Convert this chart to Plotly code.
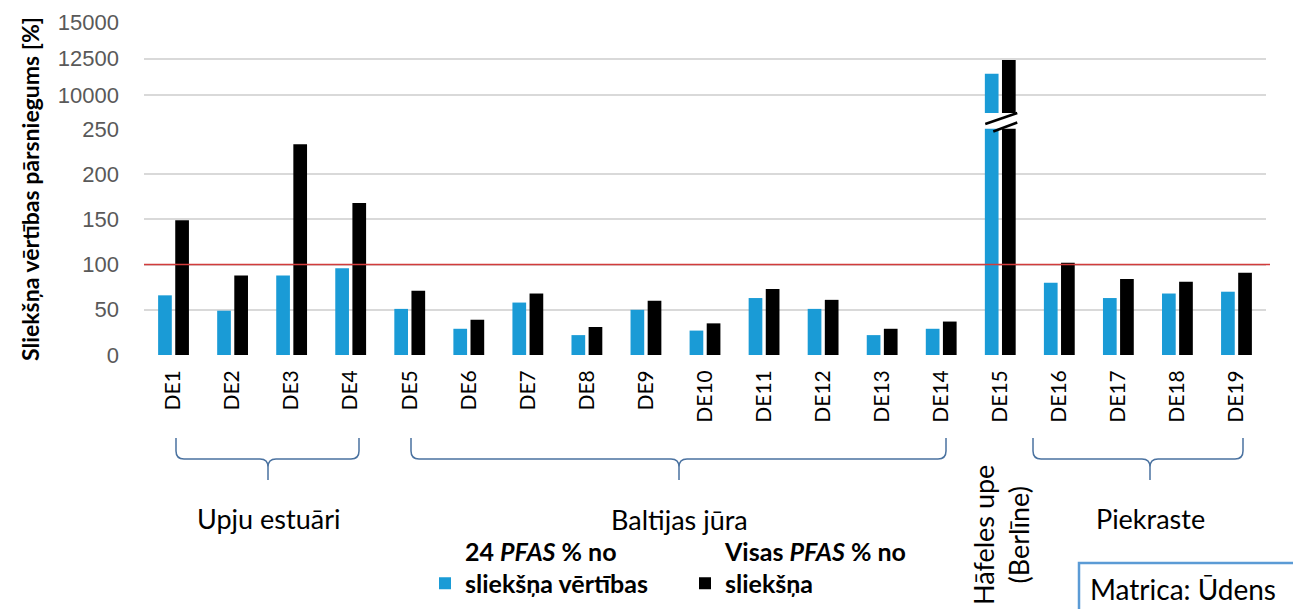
import plotly.graph_objects as go

# ---------------- data ----------------
categories = ["DE1", "DE2", "DE3", "DE4", "DE5", "DE6", "DE7", "DE8", "DE9", "DE10",
              "DE11", "DE12", "DE13", "DE14", "DE15", "DE16", "DE17", "DE18", "DE19"]
pfas24_pct = [66, 49, 88, 96, 51, 29, 58, 22, 50, 27, 63, 51, 22, 29, 11450, 80, 63, 68, 70]
pfas_all_pct = [149, 88, 233, 168, 71, 39, 68, 31, 60, 35, 73, 61, 29, 37, 12400, 102, 84, 81, 91]
lower_ticks = [0, 50, 100, 150, 200, 250]
upper_ticks = [10000, 12500, 15000]
threshold = 100
series_names = ["<b>24 <i>PFAS</i> % no</b><br><b>sliekšņa vērtības</b>",
                "<b>Visas <i>PFAS</i> % no</b><br><b>sliekšņa</b>"]
y_title = "<b>Sliekšņa vērtības pārsniegums [%]</b>"
groups = [("Upju estuāri", 0, 3), ("Baltijas jūra", 4, 13), ("Piekraste", 15, 18)]
berlin_label = "Hāfeles upe<br>(Berlīne)"
matrix_label = "Matrica: Ūdens"

# ---------------- geometry ----------------
W, H = 1293, 609
L, R, T, B = 144, 1266, 22, 355
PW, PH = R - L, B - T
BLUE = "#1a9bd6"
BLACK = "#000000"
FONT = "Lato"
BRACE = "#4a72a0"


def px(X):
    return (X - L) / PW


def py(Y):
    return (B - Y) / PH


lower_top = 128.7
upper_bottom = 113
lower_dom = [0, py(lower_top)]
upper_dom = [py(upper_bottom), 1]
per_px = 5000 / (95 - T)
upper_range = [15000 - (upper_bottom - T) * per_px, 15000]

fig = go.Figure()
for vals, col, name in [(pfas24_pct, BLUE, series_names[0]), (pfas_all_pct, BLACK, series_names[1])]:
    fig.add_trace(go.Bar(x=categories, y=vals, name=name, marker_color=col,
                         marker_line_width=0, xaxis="x", yaxis="y"))
for vals, col in [(pfas24_pct, BLUE), (pfas_all_pct, BLACK)]:
    fig.add_trace(go.Bar(x=categories, y=vals, marker_color=col, marker_line_width=0,
                         showlegend=False, xaxis="x2", yaxis="y2"))

tickfont = dict(family="Liberation Sans", size=22, color="#595959")
fig.update_layout(
    width=W, height=H, autosize=False,
    margin=dict(l=L, r=W - R, t=T, b=H - B, autoexpand=False),
    paper_bgcolor="white", plot_bgcolor="white",
    barmode="group", bargap=0.42, bargroupgap=0.2,
    font=dict(family=FONT, color="black"),
    xaxis=dict(anchor="y", showgrid=False, tickangle=-90, ticks="", automargin=False,
               tickfont=dict(family=FONT, size=21, color="black"),
               ticklabelstandoff=10, showline=False, zeroline=False),
    xaxis2=dict(anchor="y2", matches="x", showticklabels=False, showgrid=False,
                showline=False, zeroline=False, automargin=False),
    yaxis=dict(domain=lower_dom, range=[0, 250.3], tickvals=lower_ticks,
               ticktext=[str(v) for v in lower_ticks], automargin=False,
               showgrid=True, gridcolor="#d9d9d9", gridwidth=1.5, zeroline=False,
               tickfont=tickfont, ticklabelstandoff=24),
    yaxis2=dict(domain=upper_dom, range=upper_range, tickvals=upper_ticks,
                ticktext=[str(v) for v in upper_ticks], automargin=False,
                showgrid=True, gridcolor="#d9d9d9", gridwidth=1.5, zeroline=False,
                tickfont=tickfont, ticklabelstandoff=24),
    legend=dict(orientation="h", x=px(425), y=py(528), xanchor="left", yanchor="top",
                font=dict(family=FONT, size=25, color="black"),
                valign="bottom", entrywidth=215, entrywidthmode="pixels",
                bgcolor="rgba(0,0,0,0)", traceorder="normal"),
    showlegend=True,
)

# threshold line
fig.add_shape(type="line", xref="paper", yref="y", x0=0, x1=px(1270), y0=threshold, y1=threshold,
              line=dict(color="#d23c3c", width=1.5))

# axis break marks on DE15
cx15 = L + (14 + 0.5) * PW / len(categories)
for (x0, y0, x1, y1) in [(cx15 - 15, 124, cx15 + 17, 113), (cx15 - 7, 131.5, cx15 + 17, 122.5)]:
    fig.add_shape(type="line", xref="paper", yref="paper", x0=px(x0), y0=py(y0), x1=px(x1), y1=py(y1),
                  line=dict(color="black", width=2.5))


def brace_path(xl, xr, xt, ytop=438, yh=459, ytip=480, r=8):
    def p(X, Y):
        return f"{px(X):.5f},{py(Y):.5f}"
    pts = [f"M {p(xl, ytop)} L {p(xl, yh - r)} Q {p(xl, yh)} {p(xl + r, yh)}",
           f"L {p(xt - r, yh)} Q {p(xt, yh)} {p(xt, yh + r)} L {p(xt, ytip)}",
           f"M {p(xt, yh + r)} Q {p(xt, yh)} {p(xt + r, yh)}",
           f"L {p(xr - r, yh)} Q {p(xr, yh)} {p(xr, yh - r)} L {p(xr, ytop)}"]
    return " ".join(pts)


brace_specs = {"Upju estuāri": (176, 359, 268, 518),
               "Baltijas jūra": (411, 946, 679, 519),
               "Piekraste": (1033, 1243, 1150, 518)}
for name, i0, i1 in groups:
    xl, xr, xt, ylab = brace_specs[name]
    fig.add_shape(type="path", xref="paper", yref="paper", path=brace_path(xl, xr, xt),
                  line=dict(color=BRACE, width=1.5))
    fig.add_annotation(text=name, xref="paper", yref="paper", x=px(xt), y=py(ylab),
                       xanchor="center", yanchor="middle", showarrow=False,
                       font=dict(family=FONT, size=27, color="black"))

fig.add_annotation(text=berlin_label, xref="paper", yref="paper", x=px(1001), y=py(535),
                   xanchor="center", yanchor="middle", textangle=-90, showarrow=False,
                   font=dict(family=FONT, size=27, color="black"))

fig.add_annotation(text=y_title, xref="paper", yref="paper", x=px(30), y=py(189),
                   xanchor="center", yanchor="middle", textangle=-90, showarrow=False,
                   font=dict(family=FONT, size=23, color="black"))

fig.add_shape(type="rect", xref="paper", yref="paper", x0=px(1079), x1=px(1310),
              y0=py(563), y1=py(630), line=dict(color="#5b9bd5", width=2.5),
              fillcolor="white")
fig.add_annotation(text=matrix_label, xref="paper", yref="paper", x=px(1088), y=py(589),
                   xanchor="left", yanchor="middle", showarrow=False,
                   font=dict(family=FONT, size=28, color="black"))

fig.write_html("out.html", config={"displayModeBar": False},
               post_script="document.body.style.margin='0';")
